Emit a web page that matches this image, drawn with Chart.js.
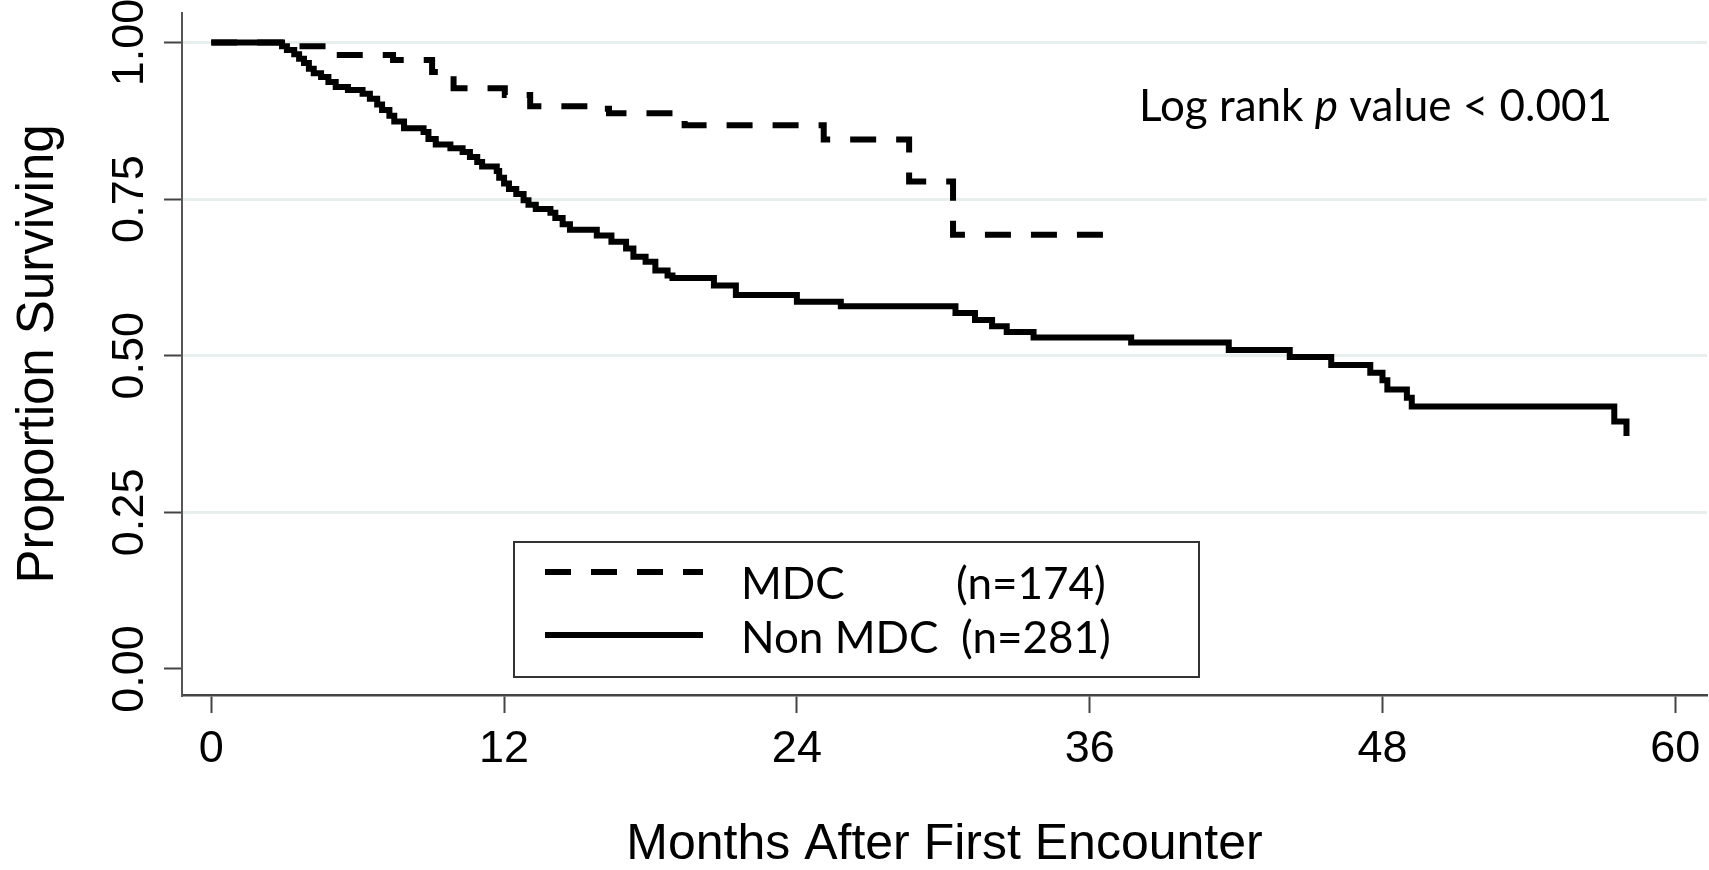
<!DOCTYPE html>
<html><head><meta charset="utf-8">
<script src="https://cdn.jsdelivr.net/npm/chart.js@4.4.0/dist/chart.umd.min.js"></script>
<style>html,body{margin:0;padding:0;background:#fff;} #wrap{width:1709px;height:870px;position:relative;}</style>
</head><body><div id="wrap"><canvas id="c" width="1709" height="870"></canvas></div>
<script>
// ---- data ----
const xTicks = [0, 12, 24, 36, 48, 60];
const yTicks = [0, 0.25, 0.5, 0.75, 1];
const seriesNames = ['MDC', 'Non MDC'];
const seriesN = ['(n=174)', '(n=281)'];

const mdcTimes = [0, 3.0, 5.0, 7.45, 9.05, 9.93, 12.03, 13.07, 15.5, 16.3, 19.4, 25.1, 28.6, 30.4, 37.2];
const mdcSurv  = [1.0, 0.994, 0.980, 0.972, 0.953, 0.927, 0.916, 0.898, 0.894, 0.887, 0.868, 0.845, 0.778, 0.693, 0.693];

const nonTimes = [0, 2.9, 3.1, 3.4, 3.6, 3.8, 4.0, 4.2, 4.5, 4.8, 5.1, 5.6, 6.2, 6.5, 6.8, 7.0, 7.3, 7.5, 7.9,
  8.7, 8.9, 9.2, 9.8, 10.3, 10.6, 10.9, 11.1, 11.7, 11.8, 12.0, 12.2, 12.5, 12.8, 13.0, 13.3, 13.9, 14.1, 14.4, 14.7,
  15.8, 16.4, 17.0, 17.3, 17.8, 18.2, 18.7, 18.9, 20.6, 21.5, 24.0, 25.8, 30.5, 31.3, 32.0, 32.6, 33.7, 37.7,
  41.7, 44.2, 45.9, 47.5, 48.0, 48.2, 49.0, 49.2, 57.5, 58.0];
const nonSurv = [1.0, 0.994, 0.988, 0.981, 0.974, 0.967, 0.958, 0.951, 0.945, 0.937, 0.929, 0.924, 0.918, 0.910, 0.901, 0.892, 0.883, 0.874, 0.863,
  0.857, 0.846, 0.837, 0.831, 0.825, 0.817, 0.809, 0.802, 0.795, 0.784, 0.775, 0.766, 0.758, 0.748, 0.741, 0.734, 0.728, 0.720, 0.710, 0.701,
  0.692, 0.682, 0.671, 0.658, 0.650, 0.636, 0.628, 0.624, 0.612, 0.597, 0.586, 0.579, 0.568, 0.557, 0.547, 0.538, 0.529, 0.521,
  0.509, 0.498, 0.485, 0.473, 0.461, 0.446, 0.433, 0.419, 0.395, 0.372];

const toPts = (t, s) => t.map((v, i) => ({x: v, y: s[i]}));

// ---- styling helpers ----
const tickFont = {family: '"Liberation Sans", Arial, sans-serif', size: 45};
const meas = document.createElement('canvas').getContext('2d');
meas.font = '45px "Liberation Sans"';
const widestY = Math.max(...yTicks.map(v => meas.measureText(v.toFixed(2)).width));
const yLabelPad = 182 - 18 - 131 - widestY / 2;
const DASH = [26, 20];

const overlay = {
  id: 'overlay',
  afterDraw(chart) {
    const ctx = chart.ctx;
    ctx.save();
    // legend box
    ctx.fillStyle = '#fff';
    ctx.fillRect(514, 542, 685, 135);
    ctx.strokeStyle = '#333';
    ctx.lineWidth = 2;
    ctx.strokeRect(514, 542, 685, 135);
    // samples
    ctx.strokeStyle = '#000';
    ctx.lineWidth = 6;
    ctx.setLineDash(DASH);
    ctx.beginPath(); ctx.moveTo(545, 572); ctx.lineTo(703, 572); ctx.stroke();
    ctx.setLineDash([]);
    ctx.beginPath(); ctx.moveTo(545, 635); ctx.lineTo(703, 635); ctx.stroke();
    // texts
    ctx.fillStyle = '#000';
    ctx.font = '44px Lato, "Open Sans", sans-serif';
    ctx.textBaseline = 'alphabetic';
    ctx.textAlign = 'left';
    ctx.fillText(seriesNames[0], 741, 599);
    ctx.fillText(seriesN[0], 956, 599);
    ctx.fillText(seriesNames[1], 741, 653);
    ctx.fillText(seriesN[1], 961, 653);
    // annotation
    let x = 1139;
    const y = 121;
    const parts = [['Log rank ', ''], ['p', 'italic '], [' value < 0.001', '']];
    for (const [txt, style] of parts) {
      ctx.font = style + '44px Lato, "Open Sans", sans-serif';
      ctx.fillText(txt, x, y);
      x += ctx.measureText(txt).width;
    }
    ctx.restore();
  }
};

new Chart(document.getElementById('c'), {
  type: 'line',
  data: {
    datasets: [
      {label: seriesNames[0], data: toPts(mdcTimes, mdcSurv), stepped: 'before', borderColor: '#000',
       borderWidth: 6, borderDash: DASH, pointRadius: 0, fill: false, borderJoinStyle: 'miter'},
      {label: seriesNames[1], data: toPts(nonTimes, nonSurv), stepped: 'before', borderColor: '#000',
       borderWidth: 6, pointRadius: 0, fill: false, borderJoinStyle: 'miter'}
    ]
  },
  options: {
    responsive: false,
    animation: false,
    devicePixelRatio: 1,
    layout: {padding: {top: 13, right: 2, left: 0, bottom: 0}},
    plugins: {legend: {display: false}, tooltip: {enabled: false}},
    scales: {
      x: {
        type: 'linear', min: -1.2, max: 61.3,
        afterBuildTicks: (ax) => { ax.ticks = xTicks.map(v => ({value: v})); },
        afterFit: (s) => { s.height = 175; s.paddingLeft = 0; s.paddingRight = 0; },
        grid: {drawOnChartArea: false, drawTicks: true, tickLength: 18, tickColor: '#444', tickWidth: 2},
        border: {display: true, color: '#444', width: 2.5},
        ticks: {font: tickFont, color: '#000', padding: 10, maxRotation: 0, minRotation: 0,
                callback: (v) => String(v)},
        title: {display: true, text: 'Months After First Encounter', color: '#000',
                font: {family: '"Liberation Sans", Arial, sans-serif', size: 50, lineHeight: 1},
                padding: {top: 0, bottom: 0}}
      },
      y: {
        type: 'linear', min: -0.0415, max: 1.047,
        afterBuildTicks: (ax) => { ax.ticks = yTicks.map(v => ({value: v})); },
        afterFit: (s) => { s.width = 182; s.paddingTop = 0; s.paddingBottom = 0; },
        grid: {
          drawOnChartArea: true, drawTicks: true, tickLength: 18, tickWidth: 2,
          tickColor: '#444',
          color: (c) => (c.tick && c.tick.value === 0) ? 'rgba(0,0,0,0)' : '#e7efef',
          lineWidth: 3
        },
        border: {display: true, color: '#555', width: 2},
        ticks: {font: tickFont, color: '#000', minRotation: 90, maxRotation: 90,
                crossAlign: 'center', padding: yLabelPad,
                callback: (v) => Number(v).toFixed(2)},
        title: {display: true, text: 'Proportion Surviving', color: '#000',
                font: {family: '"Liberation Sans", Arial, sans-serif', size: 51, lineHeight: 1},
                padding: {top: 13, bottom: 0}}
      }
    }
  },
  plugins: [overlay]
});
</script>
</body></html>
